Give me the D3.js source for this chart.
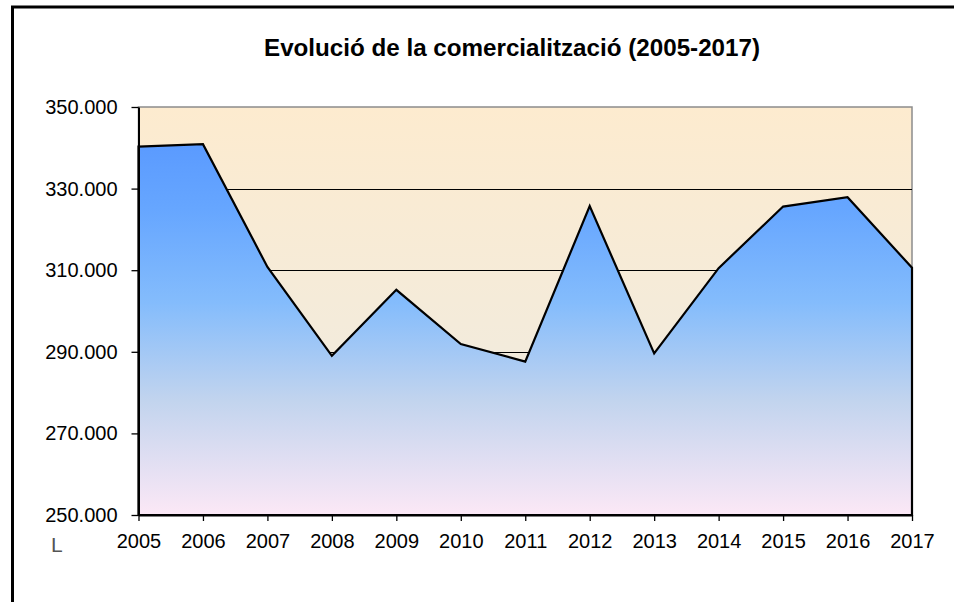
<!DOCTYPE html>
<html>
<head>
<meta charset="utf-8">
<script src="https://cdn.jsdelivr.net/npm/d3@7"></script>
<style>
    body { margin: 0; background: #fff; }
    #chart-area { width: 954px; height: 602px; }
    text { font-family: "Liberation Sans", Arial, sans-serif; }
</style>
</head>
<body>
<div id="chart-area"></div>
<script>

// years on the x axis
let years = ["2005", "2006", "2007", "2008", "2009", "2010", "2011", "2012", "2013", "2014", "2015", "2016", "2017"];

// commercialised volume
let volumes = [340300, 340900, 310800, 289000, 305200, 291900, 287600, 325700, 289600, 310500, 325600, 327900, 310600];

// y axis ticks
let yTicks = [250000, 270000, 290000, 310000, 330000, 350000];
let gridValues = [270000, 290000, 310000, 330000];

let chartTitle = "Evolució de la comercialització (2005-2017)";

class AreaVis {

    constructor(parentElement) {
        this.parentElement = parentElement;
        this.data = years.map((y, i) => ({year: y, value: volumes[i]}));

        this.initVis();
    }

    initVis(){
        let vis = this;

        vis.margin = {top: 107, right: 42, bottom: 87, left: 138.5};
        vis.width = 954 - vis.margin.left - vis.margin.right;
        vis.height = 602 - vis.margin.top - vis.margin.bottom;

        vis.svg = d3.select("#" + vis.parentElement)
            .append("svg")
            .attr("width", 954)
            .attr("height", 602);

        // outer frame, only left and top edges show
        vis.svg.append("rect")
            .attr("x", 12.5)
            .attr("y", 7)
            .attr("width", 1200)
            .attr("height", 800)
            .attr("fill", "#fff")
            .attr("stroke", "#000")
            .attr("stroke-width", 3);

        vis.svg.append("text")
            .attr("x", 512)
            .attr("y", 56)
            .attr("text-anchor", "middle")
            .attr("textLength", 496)
            .attr("lengthAdjust", "spacingAndGlyphs")
            .style("font-size", "23px")
            .style("font-weight", "bold")
            .text(chartTitle);

        // the little "L" under the y labels
        vis.svg.append("text")
            .attr("x", 51)
            .attr("y", 552)
            .style("font-size", "21px")
            .style("fill", "#555")
            .text("L");

        let defs = vis.svg.append("defs");

        let bg = defs.append("linearGradient")
            .attr("id", "bgGrad")
            .attr("x1", 0).attr("y1", 0).attr("x2", 0).attr("y2", 1);
        bg.append("stop").attr("offset", "0%").attr("stop-color", "#fdebcf");
        bg.append("stop").attr("offset", "100%").attr("stop-color", "#ecebe4");

        let areaGrad = defs.append("linearGradient")
            .attr("id", "areaGrad")
            .attr("gradientUnits", "userSpaceOnUse")
            .attr("x1", 0).attr("y1", 0).attr("x2", 0).attr("y2", vis.height);
        [["0%", "#5494ff"], ["25%", "#66a6ff"], ["48%", "#84bcfc"],
         ["72%", "#c2d4ee"], ["100%", "#fce8f6"]].forEach(s => {
            areaGrad.append("stop").attr("offset", s[0]).attr("stop-color", s[1]);
        });

        vis.g = vis.svg.append("g")
            .attr("transform", "translate(" + vis.margin.left + "," + vis.margin.top + ")");

        vis.x = d3.scalePoint()
            .domain(years)
            .range([0, vis.width]);

        vis.y = d3.scaleLinear()
            .domain([250000, 350000])
            .range([vis.height, 0]);

        vis.locale = d3.formatLocale({decimal: ",", thousands: ".", grouping: [3], currency: ["", " €"]});

        vis.wrangleData();
    }

    wrangleData(){
        let vis = this;

        vis.updateVis();
    }

    updateVis(){
        let vis = this;

        // plot background
        vis.g.append("rect")
            .attr("width", vis.width)
            .attr("height", vis.height)
            .attr("fill", "url(#bgGrad)")
            .attr("stroke", "#8c8c8c")
            .attr("stroke-width", 1.5);

        // gridlines
        vis.g.selectAll(".grid")
            .data(gridValues)
            .enter()
            .append("line")
            .attr("class", "grid")
            .attr("x1", 0)
            .attr("x2", vis.width)
            .attr("y1", d => Math.round(vis.y(d)) + 0.5)
            .attr("y2", d => Math.round(vis.y(d)) + 0.5)
            .attr("stroke", "#000")
            .attr("stroke-width", 1);

        let area = d3.area()
            .x(d => vis.x(d.year))
            .y0(vis.y(250000))
            .y1(d => vis.y(d.value));

        vis.g.append("path")
            .datum(vis.data)
            .attr("d", area)
            .attr("fill", "url(#areaGrad)")
            .attr("stroke", "#000")
            .attr("stroke-width", 2.2)
            .attr("stroke-linejoin", "miter");

        let yAxis = d3.axisLeft(vis.y)
            .tickValues(yTicks)
            .tickSize(7)
            .tickSizeOuter(0)
            .tickPadding(14)
            .tickFormat(vis.locale.format(",.0f"));

        let xAxis = d3.axisBottom(vis.x)
            .tickSize(6)
            .tickSizeOuter(0)
            .tickPadding(13);

        let ya = vis.g.append("g").call(yAxis);
        let xa = vis.g.append("g")
            .attr("transform", "translate(0," + vis.height + ")")
            .call(xAxis);

        [ya, xa].forEach(a => {
            a.select(".domain").attr("stroke", "#000").attr("stroke-width", 2);
            a.selectAll(".tick line").attr("stroke", "#000").attr("stroke-width", 1.3);
            a.selectAll(".tick text")
                .attr("fill", "#000")
                .style("font-family", "'Liberation Sans', Arial, sans-serif")
                .style("font-size", "20px");
        });
    }
}

let areaVis = new AreaVis("chart-area");

</script>
</body>
</html>
